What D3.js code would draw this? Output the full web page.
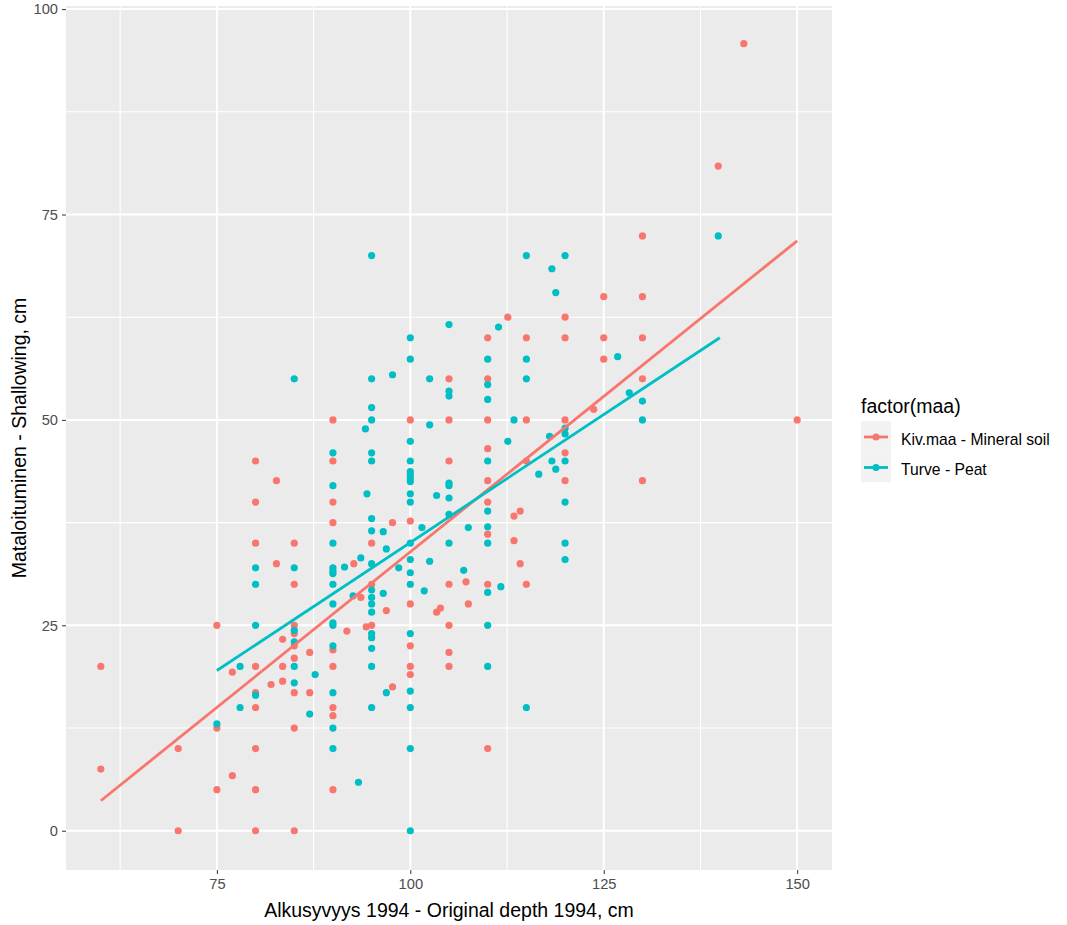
<!DOCTYPE html>
<html>
<head>
<meta charset="utf-8">
<script src="https://cdn.jsdelivr.net/npm/d3@7"></script>
<style>
  body { margin: 0; background: #fff; }
  svg text { font-family: "Liberation Sans", Arial, sans-serif; }
  .axis text { fill: #4d4d4d; font-size: 14.7px; }
  .axis line { stroke: #333; }
  .axis path { display: none; }
</style>
</head>
<body>
<div id="chart"></div>
<script>
// Kiv.maa - Mineral soil  [depth 1994, shallowing]
var mineral = [
  [60,20],[60,7.5],[70,10],[70,0],
  [75,25],[75,12.5],[75,5],[77,19.3],[77,6.7],
  [80,45],[80,40],[80,35],[80,20],[80,16.8],[80,15],[80,10],[80,5],[80,0],
  [82,17.8],[82.7,42.6],[82.7,32.5],[83.5,23.3],[83.5,20],[83.5,18.2],
  [85,35],[85,30],[85,25],[85,24],[85,22.5],[85,21],[85,16.8],[85,12.5],[85,0],
  [87,21.7],[87,16.8],
  [90,50],[90,45],[90,40],[90,37.5],[90,22],[90,20],[90,15],[90,14],[90,5],
  [91.8,24.3],[92.7,32.5],[93.6,28.4],[94.3,24.8],[95,35],[95,30],[95,25],
  [96.9,26.8],[97.7,37.5],[97.7,17.5],
  [100,50],[100,37.7],[100,27.6],[100,22.5],[100,20],[100,19],
  [103.4,26.6],[103.9,27.1],
  [105,55],[105,50],[105,45],[105,30],[105,25],[105,21.7],[105,20],
  [107.2,30.3],[107.5,27.6],
  [110,60],[110,55],[110,50],[110,46.5],[110,42.6],[110,40],[110,36.1],[110,30],[110,10],
  [112.6,62.5],[113.4,38.3],[114.2,38.9],[113.4,35.3],[114.2,32.5],
  [115,60],[115,50],[115,45],[115,30],
  [120,62.5],[120,60],[120,50],[120,46],[120,42.6],
  [123.7,51.3],[125,65],[125,60],[125,57.4],
  [130,72.4],[130,65],[130,60],[130,55],[130,42.6],
  [139.8,80.9],[143.1,95.8],[150,50]
];

// Turve - Peat
var peat = [
  [75,13],[78,20],[78,15],
  [80,32],[80,30],[80,25],[80,16.5],
  [85,55],[85,32],[85,24.4],[85,23],[85,20],[85,18],
  [87,14.2],[87.7,19],
  [90,46],[90,42],[90,35],[90,32],[90,31.6],[90,31.3],[90,30],[90,27.6],[90,25.3],
  [90,25],[90,22.5],[90,16.8],[90,12.5],[90,10],
  [91.5,32.1],[92.6,28.6],[93.3,5.9],[93.6,33.2],[94.2,48.9],[94.4,41],
  [95,70],[95,55],[95,51.5],[95,50],[95,46],[95,45],[95,38],[95,36.5],[95,32.5],
  [95,29.3],[95,28.4],[95,27.6],[95,26.6],[95,24],[95,23.5],[95,22.2],[95,20],[95,15],
  [96.5,36.4],[96.5,28.9],[96.9,34.3],[96.9,16.8],[97.7,55.5],[98.5,32],
  [100,60],[100,57.4],[100,47.4],[100,45],[100,43.7],[100,43.3],[100,42.9],[100,42.5],
  [100,41],[100,40],[100,35],[100,33],[100,31.4],[100,30],[100,24],[100,17],[100,15],
  [100,10],[100,0],
  [101.5,36.9],[101.8,29.2],[102.5,55],[102.5,49.4],[102.5,32.8],[103.4,40.8],
  [105,61.6],[105,53.5],[105,52.9],[105,42.3],[105,42],[105,40.5],[105,38.5],[105,35],
  [106.9,31.7],[107.5,36.9],
  [110,57.4],[110,54.3],[110,52.5],[110,45],[110,38.9],[110,37],[110,35],[110,29],
  [110,25],[110,20],
  [111.4,61.3],[111.7,29.7],[112.6,47.4],[113.4,50],
  [115,70],[115,57.4],[115,55],[115,15],
  [116.6,43.4],[118,48],[118.3,68.4],[118.3,45],[118.8,65.5],[118.8,44],
  [120,70],[120,49],[120,48.3],[120,45],[120,40],[120,35],[120,33],
  [126.8,57.7],[128.3,53.3],[130,52.3],[130,50],[139.8,72.4]
];

// fitted lm lines, end points
var mineralFit = [[60,3.65],[150,71.8]];
var peatFit = [[75,19.5],[140,60]];

var groups = ['Kiv.maa - Mineral soil', 'Turve - Peat'];
var xTicks = [75, 100, 125, 150],
    xMinor = [62.5, 87.5, 112.5, 137.5],
    yTicks = [0, 25, 50, 75, 100],
    yMinor = [12.5, 37.5, 62.5, 87.5];

var W = 1067, H = 925;
var panel = {left: 66, right: 832, top: 6, bottom: 870};

var svg = d3.select('#chart').append('svg')
    .attr('width', W)
    .attr('height', H);

var x = d3.scaleLinear().domain([55.5, 154.5]).range([panel.left, panel.right]),
    y = d3.scaleLinear().domain([-4.78, 100.38]).range([panel.bottom, panel.top]),
    color = d3.scaleOrdinal().domain(groups).range(['#F8766D', '#00BFC4']);

// panel background
svg.append('rect')
  .attr('x', panel.left).attr('y', panel.top)
  .attr('width', panel.right - panel.left)
  .attr('height', panel.bottom - panel.top)
  .attr('fill', '#EBEBEB');

// grid lines
var grid = svg.append('g');
grid.selectAll('.vminor').data(xMinor).enter().append('line')
  .attr('x1', d => x(d)).attr('x2', d => x(d))
  .attr('y1', panel.top).attr('y2', panel.bottom)
  .attr('stroke', '#fff').attr('stroke-width', 1.1);
grid.selectAll('.hminor').data(yMinor).enter().append('line')
  .attr('y1', d => y(d)).attr('y2', d => y(d))
  .attr('x1', panel.left).attr('x2', panel.right)
  .attr('stroke', '#fff').attr('stroke-width', 1.1);
grid.selectAll('.vmajor').data(xTicks).enter().append('line')
  .attr('x1', d => x(d)).attr('x2', d => x(d))
  .attr('y1', panel.top).attr('y2', panel.bottom)
  .attr('stroke', '#fff').attr('stroke-width', 2);
grid.selectAll('.hmajor').data(yTicks).enter().append('line')
  .attr('y1', d => y(d)).attr('y2', d => y(d))
  .attr('x1', panel.left).attr('x2', panel.right)
  .attr('stroke', '#fff').attr('stroke-width', 2);

// points
var series = [
  {key: groups[0], pts: mineral, fit: mineralFit},
  {key: groups[1], pts: peat, fit: peatFit}
];

series.forEach(function(s) {
  svg.append('g').selectAll('circle')
    .data(s.pts)
      .enter().append('circle')
    .attr('cx', d => x(d[0]))
    .attr('cy', d => y(d[1]))
    .attr('r', 3.6)
    .attr('fill', color(s.key));
});

// regression lines
var line = d3.line().x(d => x(d[0])).y(d => y(d[1]));
series.forEach(function(s) {
  svg.append('path')
    .attr('d', line(s.fit))
    .attr('fill', 'none')
    .attr('stroke', color(s.key))
    .attr('stroke-width', 2.8);
});

// axes
svg.append('g')
  .attr('class', 'axis')
  .attr('transform', 'translate(0,' + panel.bottom + ')')
  .call(d3.axisBottom(x).tickValues(xTicks).tickSize(4).tickPadding(5));

svg.append('g')
  .attr('class', 'axis')
  .attr('transform', 'translate(' + panel.left + ',0)')
  .call(d3.axisLeft(y).tickValues(yTicks).tickSize(4).tickPadding(4));

// axis titles
svg.append('text')
  .attr('x', (panel.left + panel.right) / 2)
  .attr('y', 917)
  .attr('text-anchor', 'middle')
  .style('font-size', '19.5px')
  .text('Alkusyvyys 1994 - Original depth 1994, cm');

svg.append('text')
  .attr('transform', 'translate(26,' + (panel.top + panel.bottom) / 2 + ') rotate(-90)')
  .attr('text-anchor', 'middle')
  .style('font-size', '19.5px')
  .text('Mataloituminen - Shallowing, cm');

// legend
var legend = svg.append('g').attr('transform', 'translate(861,0)');
legend.append('text')
  .attr('x', 0).attr('y', 413)
  .style('font-size', '19.5px')
  .text('factor(maa)');

var keys = legend.selectAll('.key')
  .data(groups)
    .enter().append('g')
  .attr('transform', (d, i) => 'translate(0,' + (421 + i * 30.5) + ')');

keys.append('rect')
  .attr('width', 30).attr('height', 30.5)
  .attr('fill', '#F2F2F2');
keys.append('line')
  .attr('x1', 3).attr('x2', 27)
  .attr('y1', 16).attr('y2', 16)
  .attr('stroke', d => color(d))
  .attr('stroke-width', 2.8);
keys.append('circle')
  .attr('cx', 15).attr('cy', 16).attr('r', 3.6)
  .attr('fill', d => color(d));
keys.append('text')
  .attr('x', 40).attr('y', 23.5)
  .style('font-size', '15.7px')
  .text(d => d);
</script>
</body>
</html>
